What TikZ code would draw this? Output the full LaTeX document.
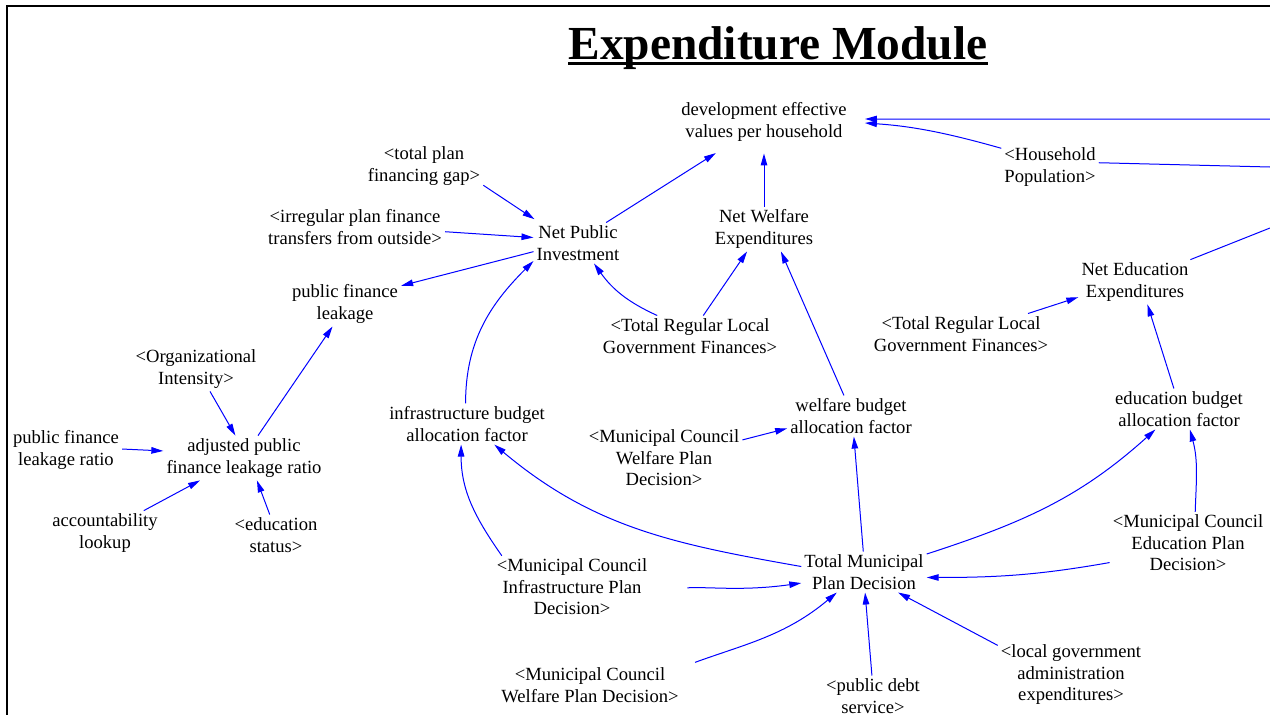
\documentclass[tikz,border=0pt]{standalone}
\usepackage{fontspec}
\setmainfont{Liberation Serif}
\usetikzlibrary{arrows.meta}
\begin{document}
\begin{tikzpicture}[x=1pt,y=1pt,
  var/.style={align=center,inner sep=3pt,font=\fontsize{18.6}{21.5}\selectfont},
  lnk/.style={blue,line width=1pt,-{Triangle[length=12pt,width=6.5pt]}},
  lnkplain/.style={blue,line width=1pt}]
\useasboundingbox (0,0) rectangle (1270,-715);
\draw[line width=2pt](7,-715)--(7,-6)--(1270,-6);
\node[inner sep=0pt,anchor=base,font=\fontsize{47.4}{50}\selectfont\bfseries](title) at (778,-59.5){Expenditure Module};
\draw[line width=3pt]([yshift=-3.5pt]title.base west)--([yshift=-3.5pt]title.base east);
\node[var](dev) at (764,-122){development effective\\values per household};
\node[var](hh) at (1050,-167){<Household\\Population>};
\node[var](npi) at (578,-243){Net Public\\Investment};
\node[var](tpfg) at (424,-166){<total plan\\financing gap>};
\node[var](ipft) at (355,-227){<irregular plan finance\\transfers from outside>};
\node[var](pfl) at (345,-304){public finance\\leakage};
\node[var](nwe) at (764,-229){Net Welfare\\Expenditures};
\node[var](trlgfA) at (690,-336){<Total Regular Local\\Government Finances>};
\node[var](nee) at (1135,-282){Net Education\\Expenditures};
\node[var](trlgfB) at (961,-334){<Total Regular Local\\Government Finances>};
\node[var](oi) at (196,-369){<Organizational\\Intensity>};
\node[var](apflr) at (244,-458){adjusted public\\finance leakage ratio};
\node[var](pflr) at (66,-450){public finance\\leakage ratio};
\node[var](acc) at (105,-533){accountability\\lookup};
\node[var](edu) at (276,-535){<education\\status>};
\node[var](ibaf) at (467,-424){infrastructure budget\\allocation factor};
\node[var](wbaf) at (851,-416){welfare budget\\allocation factor};
\node[var](mcwpdA) at (664,-458){<Municipal Council\\Welfare Plan\\Decision>};
\node[var](ebaf) at (1179,-409){education budget\\allocation factor};
\node[var](tmpd) at (864,-572){Total Municipal\\Plan Decision};
\node[var](mcipd) at (572,-587){<Municipal Council\\Infrastructure Plan\\Decision>};
\node[var](mcepd) at (1188,-543){<Municipal Council\\Education Plan\\Decision>};
\node[var](mcwpdB) at (590,-685){<Municipal Council\\Welfare Plan Decision>};
\node[var](pds) at (873,-696){<public debt\\service>};
\node[var](lgae) at (1071,-675){<local government\\administration\\expenditures>};
\coordinate (rtA) at (1270,-119);
\coordinate (rtB) at (1270,-167);
\coordinate (rtC) at (1270,-228);
\draw[lnk,shorten >=6pt](tpfg.-18)--(npi.152);
\draw[lnk](ipft.-3)--(npi.173);
\draw[lnk](npi.-169)--(pfl.18);
\draw[lnk,shorten >=16pt](npi.36)--(dev.-147);
\draw[lnk,shorten >=9pt](nwe.north)--(dev.south);
\draw[lnk,shorten >=15pt](hh.159) to[bend right=6] (dev.0);
\draw[lnk,shorten >=15pt](rtA)--(dev.2);
\draw[lnkplain](hh.5)--(rtB);
\draw[lnkplain](nee.22)--(rtC);
\draw[lnk](trlgfA.148) to[bend left=15] (npi.-52);
\draw[lnk](trlgfA.57)--(nwe.-127);
\draw[lnk](wbaf.109)--(nwe.-53);
\draw[lnk](trlgfB.17)--(nee.-165);
\draw[lnk](ebaf.104)--(nee.-61);
\draw[lnk](apflr.58)--(pfl.-119);
\draw[lnk](oi.-58)--(apflr.111);
\draw[lnk](pflr.1)--(apflr.175);
\draw[lnk](acc.30)--(apflr.-153);
\draw[lnk](edu.107)--(apflr.-60);
\draw[lnk](ibaf.94) to[out=90,in=225] (npi.-158);
\draw[lnk](mcipd.156) to[out=125,in=-90] (ibaf.-106);
\draw[lnk](tmpd.175) to[out=170,in=-40] (ibaf.-37);
\draw[lnk](mcwpdA.13)--(wbaf.191);
\draw[lnk](tmpd.92)--(wbaf.-82);
\draw[lnk](tmpd.16) to[out=18,in=222] (ebaf.-139);
\draw[lnk](mcepd.77) to[out=88,in=-75] (ebaf.-62);
\draw[lnk](mcepd.-166) to[out=190,in=0] (tmpd.-5);
\draw[lnk,shorten <=37pt](mcipd.-2.5) to[out=3,in=188] (tmpd.190);
\draw[lnk,shorten <=14pt](mcwpdB.11) to[out=20,in=220] (tmpd.-143.5);
\draw[lnk](pds.93)--(tmpd.-87);
\draw[lnk](lgae.158)--(tmpd.-31);
\end{tikzpicture}
\end{document}
